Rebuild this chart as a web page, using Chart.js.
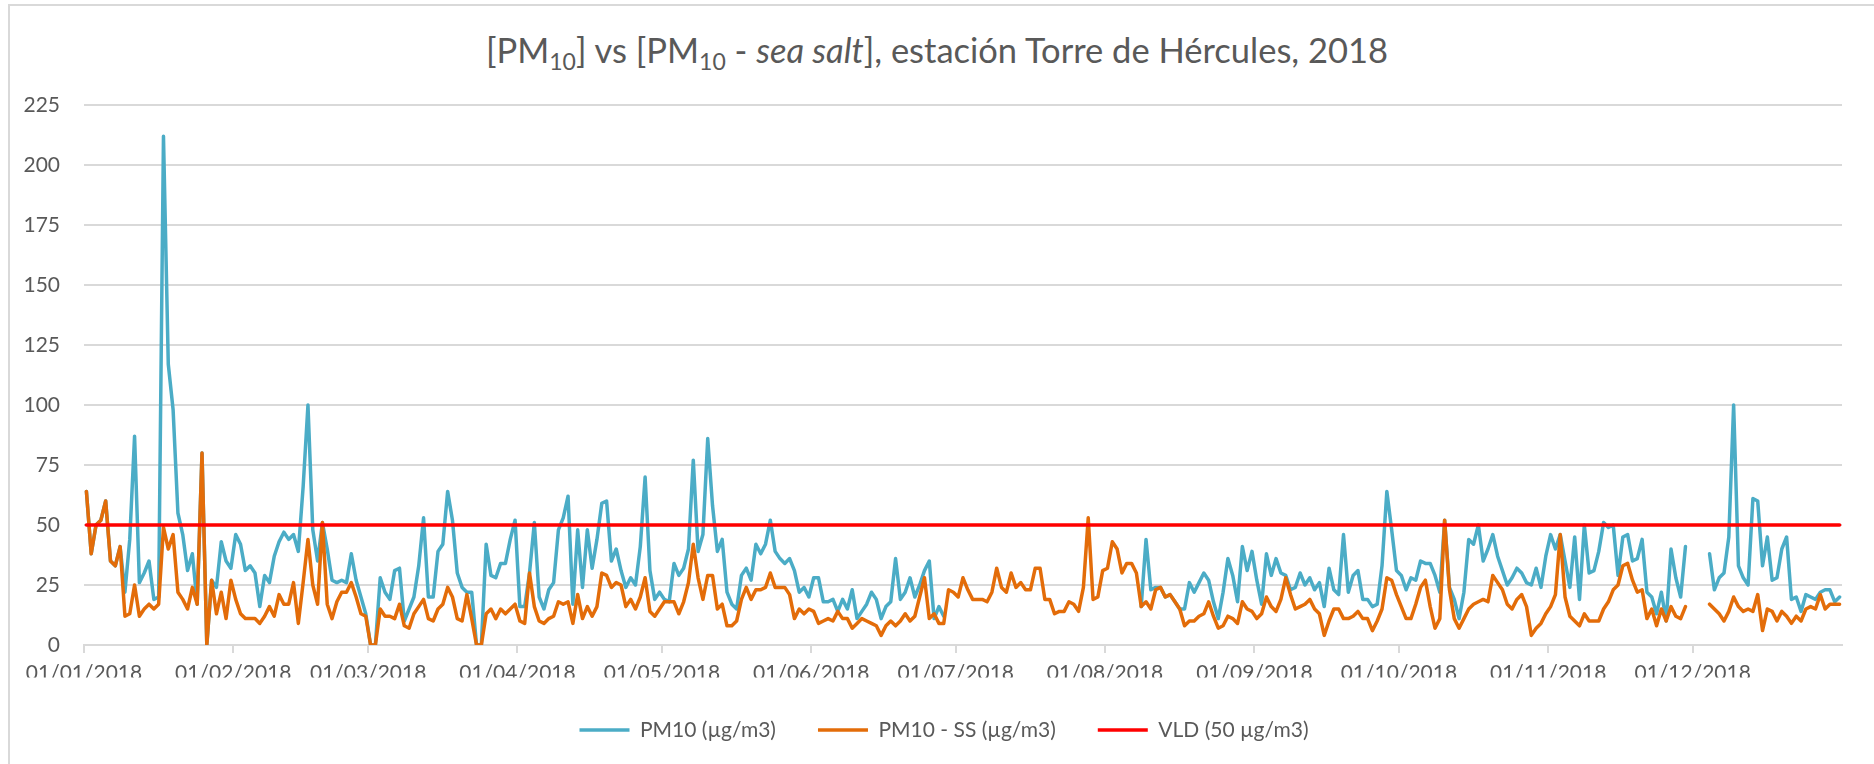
<!DOCTYPE html>
<html>
<head>
<meta charset="utf-8">
<script src="https://cdn.jsdelivr.net/npm/chart.js@4.4.1/dist/chart.umd.min.js"></script>
<style>
    html, body { margin: 0; padding: 0; background: #fff; }
    #wrap { position: relative; width: 1874px; height: 764px; overflow: hidden; }
    #frame { position: absolute; left: 8px; top: 4px; right: -10px; bottom: -10px; border-left: 2px solid #d9d9d9; border-top: 2px solid #d9d9d9; }
    #title { position: absolute; left: 0; top: 25px; width: 1874px; text-align: center; font-family: 'Lato'; font-size: 34.5px; line-height: 50px; color: #595959; }
    #title sub { font-size: 23px; vertical-align: -7px; line-height: 0; }
    canvas { position: absolute; left: 0; top: 0; }
</style>
</head>
<body>
<div id="wrap">
    <div id="frame"></div>
    <div id="title">[PM<sub>10</sub>] vs [PM<sub>10</sub> - <i>sea salt</i>], estación Torre de Hércules, 2018</div>
    <canvas id="pmChart" width="1874" height="764"></canvas>
</div>
<script>
// daily values 2018, one row per month (null = no data)
var pm10 = [
    64, 38, 50, 52, 60, 35, 33, 41, 22, 44, 87, 26, 30, 35, 19, 20, 212, 117, 98, 55, 46, 31, 38, 17, 80, 0, 27, 24, 43, 35, 32,
    46, 42, 31, 33, 30, 16, 29, 26, 37, 43, 47, 44, 46, 39, 66, 100, 48, 35, 51, 40, 27, 26, 27, 26, 38, 27, 20, 13,
    0, 0, 28, 22, 19, 31, 32, 10, 15, 20, 33, 53, 20, 20, 39, 42, 64, 52, 30, 24, 22, 22, 0, 0, 42, 29, 28, 34, 34, 44, 52,
    16, 16, 30, 51, 20, 15, 23, 26, 48, 53, 62, 17, 48, 24, 48, 32, 44, 59, 60, 35, 40, 31, 24, 28, 25, 41, 70, 31, 19, 22,
    19, 18, 34, 29, 32, 40, 77, 39, 46, 86, 58, 39, 44, 22, 17, 15, 29, 32, 27, 42, 38, 42, 52, 39, 36, 34, 36, 31, 22, 24, 20,
    28, 28, 18, 18, 19, 14, 19, 15, 23, 11, 14, 17, 22, 19, 11, 16, 18, 36, 19, 22, 28, 20, 25, 31, 35, 11, 16, 12, null, null,
    null, null, null, null, null, null, null, null, null, null, null, null, null, null, null, null, null, null, null, null, null, null, null, null, null, null, null, null, null, null, null,
    null, null, null, null, null, null, null, 16, 44, 23, 24, 24, 20, 21, 18, 15, 15, 26, 22, 26, 30, 27, 18, 11, 22, 36, 29, 18, 41, 31, 39,
    27, 17, 38, 29, 36, 30, 29, 23, 24, 30, 25, 28, 23, 26, 16, 32, 23, 21, 46, 22, 29, 31, 19, 19, 16, 17, 33, 64, 48, 31,
    29, 23, 28, 27, 35, 34, 34, 29, 22, 52, 24, 19, 11, 22, 44, 42, 50, 35, 40, 46, 37, 31, 25, 28, 32, 30, 26, 25, 32, 24, 37,
    46, 40, 46, 35, 24, 45, 19, 50, 30, 31, 39, 51, 49, 50, 29, 45, 46, 35, 36, 44, 22, 20, 13, 22, 10, 40, 28, 20, 41, null,
    null, null, null, 38, 23, 28, 30, 45, 100, 33, 28, 25, 61, 60, 33, 45, 27, 28, 40, 45, 19, 20, 14, 21, 20, 19, 22, 23, 23, 18, 20
];
var pm10ss = [
    64, 38, 50, 52, 60, 35, 33, 41, 12, 13, 25, 12, 15, 17, 15, 17, 49, 40, 46, 22, 19, 15, 24, 17, 80, 0, 27, 13, 22, 11, 27,
    19, 13, 11, 11, 11, 9, 12, 16, 12, 21, 17, 17, 26, 9, 26, 44, 25, 17, 51, 17, 11, 18, 22, 22, 26, 20, 13, 12,
    0, 0, 15, 12, 12, 11, 17, 8, 7, 13, 16, 19, 11, 10, 15, 17, 24, 20, 11, 10, 21, 11, 0, 0, 13, 15, 11, 15, 13, 15, 17,
    10, 9, 30, 16, 10, 9, 11, 12, 18, 17, 18, 9, 21, 11, 16, 12, 16, 30, 29, 24, 26, 25, 16, 19, 15, 20, 28, 14, 12, 15,
    18, 18, 18, 13, 18, 26, 42, 28, 19, 29, 29, 15, 17, 8, 8, 10, 19, 24, 19, 23, 23, 24, 30, 24, 24, 24, 21, 11, 15, 13, 15,
    14, 9, 10, 11, 10, 14, 11, 11, 7, 9, 11, 10, 9, 8, 4, 8, 10, 8, 10, 13, 10, 12, 20, 28, 11, 13, 9, 9, 23, 22,
    20, 28, 23, 19, 19, 19, 18, 22, 32, 24, 22, 30, 24, 26, 23, 23, 32, 32, 19, 19, 13, 14, 14, 18, 17, 14, 24, 53, 19, 20, 31,
    32, 43, 40, 30, 34, 34, 30, 16, 18, 15, 23, 24, 20, 21, 18, 15, 8, 10, 10, 12, 13, 18, 12, 7, 8, 12, 11, 9, 18, 15, 14,
    11, 13, 20, 16, 14, 19, 28, 21, 15, 16, 17, 19, 15, 13, 4, 10, 15, 15, 11, 11, 12, 14, 11, 11, 6, 10, 15, 28, 27, 21,
    16, 11, 11, 17, 24, 27, 16, 7, 11, 52, 23, 11, 7, 11, 15, 17, 18, 19, 18, 29, 26, 23, 17, 15, 19, 21, 16, 4, 7, 9, 13,
    16, 21, 46, 20, 12, 10, 8, 13, 10, 10, 10, 15, 18, 23, 25, 33, 34, 27, 22, 23, 11, 15, 8, 15, 10, 16, 12, 11, 16, null,
    null, null, null, 17, 15, 13, 10, 14, 20, 16, 14, 15, 14, 21, 6, 15, 14, 10, 14, 12, 9, 12, 10, 15, 16, 15, 21, 15, 17, 17, 17
];
var vldValue = 50;
var monthStarts = [0, 31, 59, 90, 120, 151, 181, 212, 243, 273, 304, 334];
var monthLabels = ['01/01/2018', '01/02/2018', '01/03/2018', '01/04/2018', '01/05/2018', '01/06/2018',
    '01/07/2018', '01/08/2018', '01/09/2018', '01/10/2018', '01/11/2018', '01/12/2018'];
var yTicks = [0, 25, 50, 75, 100, 125, 150, 175, 200, 225];
var seriesNames = ['PM10 (µg/m3)', 'PM10 - SS (µg/m3)', 'VLD (50 µg/m3)'];

// each day sits in the middle of its date slot
function toPoints(values) {
    return values.map(function (v, i) {
        return { x: i + 0.5, y: v };
    });
}

var vld = pm10.map(function () { return vldValue; });
var textColor = '#595959';
var gridColor = '#d9d9d9';

// lower "order" is drawn on top, so the later series cover the earlier ones like in Excel
function lineSet(label, values, color, order) {
    return {
        label: label,
        data: toPoints(values),
        order: order,
        borderColor: color,
        backgroundColor: color,
        borderWidth: 3.5,
        pointRadius: 0,
        borderJoinStyle: 'round',
        borderCapStyle: 'round',
        spanGaps: false,
        tension: 0
    };
}

// legend is centred a bit right of the canvas middle
var legendShift = {
    id: 'legendShift',
    afterLayout: function (chart) {
        chart.legend.left += 23;
        chart.legend.right += 23;
    }
};

var ctx = document.getElementById('pmChart').getContext('2d');
var chart = new Chart(ctx, {
    type: 'line',
    data: {
        datasets: [
            lineSet(seriesNames[0], pm10, '#4bacc6', 2),
            lineSet(seriesNames[1], pm10ss, '#e36c09', 1),
            lineSet(seriesNames[2], vld, '#ff0000', 0)
        ]
    },
    plugins: [legendShift],
    options: {
        responsive: false,
        animation: false,
        devicePixelRatio: 1,
        layout: {
            padding: { left: 0, right: 32, top: 105, bottom: 13.5 }
        },
        scales: {
            x: {
                type: 'linear',
                min: 0,
                max: 365,
                afterBuildTicks: function (axis) {
                    axis.ticks = monthStarts.map(function (v) { return { value: v }; });
                },
                afterFit: function (axis) {
                    axis.height = 32.5;
                },
                ticks: {
                    autoSkip: false,
                    maxRotation: 0,
                    padding: 8,
                    color: textColor,
                    font: { family: 'Lato', size: 21 },
                    callback: function (value) {
                        return monthLabels[monthStarts.indexOf(value)];
                    }
                },
                grid: {
                    drawOnChartArea: false,
                    drawTicks: true,
                    tickLength: 8,
                    color: gridColor,
                    lineWidth: 2
                },
                border: { color: gridColor, width: 2 }
            },
            y: {
                min: 0,
                max: 225,
                afterBuildTicks: function (axis) {
                    axis.ticks = yTicks.map(function (v) { return { value: v }; });
                },
                afterFit: function (axis) {
                    axis.width = 84;
                },
                ticks: {
                    padding: 24,
                    color: textColor,
                    font: { family: 'Lato', size: 21 }
                },
                grid: {
                    drawTicks: false,
                    color: gridColor,
                    lineWidth: 2
                },
                border: { display: false }
            }
        },
        plugins: {
            title: { display: false },
            tooltip: { enabled: false },
            legend: {
                display: true,
                position: 'bottom',
                labels: {
                    usePointStyle: true,
                    pointStyle: 'line',
                    pointStyleWidth: 50,
                    padding: 42,
                    color: textColor,
                    font: { family: 'Lato', size: 21 },
                    sort: function (a, b) {
                        return a.datasetIndex - b.datasetIndex;
                    }
                }
            }
        }
    }
});
</script>
</body>
</html>
